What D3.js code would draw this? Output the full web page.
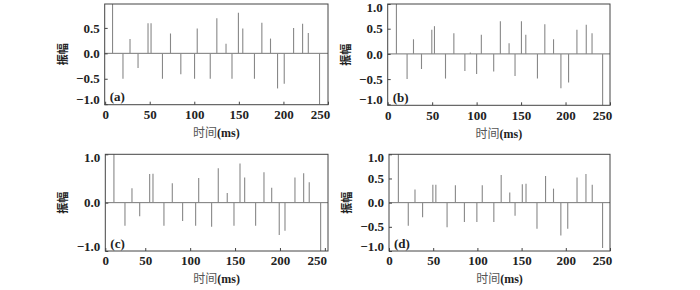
<!DOCTYPE html>
<html>
<head>
<meta charset="utf-8">
<script src="https://cdn.jsdelivr.net/npm/d3@7"></script>
<style>
  body { margin: 0; background: #fff; }
  text { font-family: "Liberation Serif", "Noto Sans CJK SC", serif; fill: #222; }
</style>
</head>
<body>
<svg id="chart" width="700" height="290"></svg>
<script>
(function(){
// spike times (ms) and amplitudes, read panel by panel
var timesA = [8.3, 20, 27.9, 36.9, 48.1, 51.5, 64.3, 73.3, 84.9, 100.3, 103.3, 117.9, 125.3,
              135.6, 142.3, 149.5, 154.4, 167.5, 175.8, 185.5, 193.4, 200.9, 211.4, 221.5, 227.9, 240.5];
var ampA   = [1.0, -0.5, 0.28, -0.29, 0.59, 0.59, -0.5, 0.39, -0.41, -0.5, 0.49, -0.5, 0.69,
              0.19, -0.5, 0.8, 0.49, -0.5, 0.6, 0.29, -0.69, -0.6, 0.5, 0.58, 0.4, -1.0];

var timesB = [9.8, 21.8, 29, 38, 49.6, 52.6, 65, 74.4, 86.8, 92.9, 100, 105.3, 119.2, 126.7,
              136.5, 143.2, 150.4, 155.3, 168.4, 176.7, 186.5, 194.8, 203.4, 212.8, 223.3, 229.8, 241.7];
var ampB   = [1.0, -0.5, 0.29, -0.3, 0.48, 0.55, -0.49, 0.41, -0.34, 0.03, -0.4, 0.38, -0.35, 0.65,
              0.21, -0.44, 0.65, 0.38, -0.49, 0.59, 0.29, -0.68, -0.57, 0.48, 0.58, 0.41, -1.03];

var timesC = [15.1, 27.4, 35.2, 43.8, 54.9, 58.6, 70.8, 80.1, 91.6, 106.1, 109.5, 123.9, 131.3,
              141.3, 148.8, 155.5, 160.7, 172.9, 182.2, 190.8, 199.2, 205.6, 216.7, 226.4, 232.6, 245.3];
var ampC   = [1.0, -0.48, 0.3, -0.28, 0.59, 0.6, -0.48, 0.4, -0.38, -0.48, 0.51, -0.5, 0.71,
              0.2, -0.48, 0.81, 0.52, -0.48, 0.63, 0.31, -0.67, -0.58, 0.52, 0.61, 0.42, -1.0];

var timesD = [10.6, 21.8, 29.4, 38, 49.6, 53, 65.7, 75.1, 85.3, 99.4, 105.5, 118.6, 126.9,
              136.6, 142.6, 150.8, 155, 167.4, 177.1, 186.1, 194.4, 202.2, 212.7, 222.8, 229.9, 241.6];
var ampD   = [1.0, -0.48, 0.27, -0.3, 0.37, 0.37, -0.51, 0.36, -0.4, -0.4, 0.36, -0.4, 0.57,
              0.21, -0.27, 0.38, 0.39, -0.54, 0.55, 0.29, -0.68, -0.54, 0.52, 0.59, 0.37, -0.94];

var xTicks = [0, 50, 100, 150, 200, 250];
var yTicksA = [0.5, 0, -0.5, -1];
var yTicksB = [1, 0.5, 0, -0.5, -1];
var yTicksC = [1, 0, -1];
var yTicksD = [1, 0.5, 0, -0.5, -1];

var xLabelCn = "时间";
var xLabelUnit = "(ms)";
var yLabel = "振幅";

var panels = [
  {tag:"(a)", t:timesA, v:ampA, yTicks:yTicksA, xDom:[-0.5, 250], yDom:[-1.01, 0.97], left:104.7, right:328, top:4, bottom:104.7},
  {tag:"(b)", t:timesB, v:ampB, yTicks:yTicksB, xDom:[0, 250], yDom:[-1.02, 0.99], left:387.7, right:610, top:4, bottom:105.3},
  {tag:"(c)", t:timesC, v:ampC, yTicks:yTicksC, xDom:[5.5, 253.5], yDom:[-1, 1], left:105.3, right:328, top:154.3, bottom:251},
  {tag:"(d)", t:timesD, v:ampD, yTicks:yTicksD, xDom:[0, 250], yDom:[-1, 1], left:389, right:610, top:154.3, bottom:251}
];

var svg = d3.select("#chart");

function drawPanel(p){
  var x = d3.scaleLinear().domain(p.xDom).range([p.left, p.right]).clamp(true);
  var y = d3.scaleLinear().domain(p.yDom).range([p.bottom, p.top]).clamp(true);
  var g = svg.append("g");

  // zero line
  g.append("line")
    .attr("x1", p.left).attr("x2", p.right)
    .attr("y1", y(0)).attr("y2", y(0))
    .attr("stroke", "#777").attr("stroke-width", 1);

  // spikes
  g.selectAll(".spike").data(d3.zip(p.t, p.v)).enter().append("line")
    .attr("class", "spike")
    .attr("x1", function(d){ return x(d[0]); })
    .attr("x2", function(d){ return x(d[0]); })
    .attr("y1", y(0))
    .attr("y2", function(d){ return y(d[1]); })
    .attr("stroke", "#888").attr("stroke-width", 1.1);

  // axes, ticks pointing inward
  var xa = g.append("g")
    .attr("transform", "translate(0," + p.bottom + ")")
    .call(d3.axisBottom(x).tickValues(xTicks).tickSize(-3).tickPadding(5).tickFormat(d3.format("d")));
  var ya = g.append("g")
    .attr("transform", "translate(" + p.left + ",0)")
    .call(d3.axisLeft(y).tickValues(p.yTicks).tickSize(-3).tickPadding(5).tickFormat(d3.format(".1f")));

  [xa, ya].forEach(function(a){
    a.select(".domain").remove();
    a.selectAll("line").attr("stroke", "#444");
    a.selectAll("text").attr("font-size", 13).attr("font-weight", "bold").style("font-family", null);
  });
  xa.selectAll("text").attr("dx", function(d){ return d === 250 ? -8 : 0; });
  ya.selectAll("text").attr("y", function(d){ return d === -1 ? -4.5 : (d === 1 ? 3 : 0); });

  // frame
  g.append("rect")
    .attr("x", p.left).attr("y", p.top)
    .attr("width", p.right - p.left).attr("height", p.bottom - p.top)
    .attr("fill", "none").attr("stroke", "#444").attr("stroke-width", 1);

  g.append("text")
    .attr("x", p.left + 5).attr("y", p.bottom - 8).attr("dy", "0.35em")
    .attr("font-size", 13).attr("font-weight", "bold").text(p.tag);

  var xl = g.append("text")
    .attr("x", (p.left + p.right) / 2).attr("y", p.bottom + 28).attr("dy", "0.35em")
    .attr("text-anchor", "middle").attr("font-size", 12);
  xl.append("tspan").attr("fill", "#555").text(xLabelCn);
  xl.append("tspan").attr("font-weight", "bold").text(xLabelUnit);

  g.append("text")
    .attr("transform", "translate(" + (p.left - 42) + "," + ((p.top + p.bottom) / 2) + ") rotate(-90)")
    .attr("dy", "0.35em").attr("text-anchor", "middle").attr("font-size", 11)
    .attr("font-weight", "bold").attr("fill", "#444").text(yLabel);
}

panels.forEach(drawPanel);
})();
</script>
</body>
</html>
